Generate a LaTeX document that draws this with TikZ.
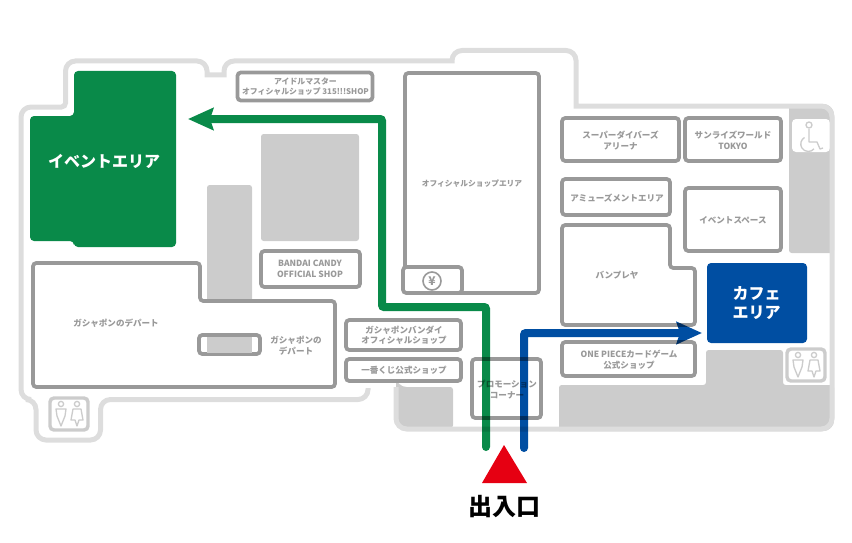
\documentclass[tikz,border=0pt]{standalone}
\usepackage{fontspec}
\setmainfont{Noto Sans CJK JP}
\usetikzlibrary{arrows.meta}

\definecolor{wallgray}{HTML}{DDDDDD}
\definecolor{blockgray}{HTML}{CCCCCC}
\definecolor{shopgray}{HTML}{999999}
\definecolor{eventgreen}{HTML}{098A49}
\definecolor{cafeblue}{HTML}{004EA2}
\definecolor{entryred}{HTML}{E60012}

\tikzset{
  wall/.style={draw=wallgray,line width=3.75pt},
  block/.style={fill=blockgray,rounded corners=2pt},
  shopbox/.style={draw=shopgray,line width=2.8pt,fill=white,rounded corners=2.5pt},
  shoplabel/.style={font=\bfseries\fontsize{6.4}{7.9}\selectfont,text=shopgray,align=center,inner sep=0pt},
  arealabel/.style={font=\bfseries\fontsize{12}{14.2}\selectfont,text=white,align=center,inner sep=0pt},
  route/.style={line width=6pt,line cap=round,rounded corners=1.5pt,
    -{Stealth[length=19pt,width=16.5pt,inset=2.5pt]}},
  iconline/.style={draw=blockgray,line width=1pt,fill=none},
  wcbox/.style={draw=blockgray,line width=2.6pt,fill=white,rounded corners=3pt}
}
\newcommand{\wcicons}[2]{
  \begin{scope}[shift={(#1,#2)}]
    \draw [wcbox] (0,0) rectangle (38,32);
    \draw [iconline] (11,6) circle (2.6);
    \draw [iconline,line join=round] (6,11) -- (16,11) -- (15,18) -- (11,28) -- (7,18) -- cycle;
    \draw [iconline] (27,6) circle (2.6);
    \draw [iconline,line join=round] (23,11) -- (31,11) -- (33,22) -- (29,22) -- (27,28) -- (25,22) -- (21,22) -- cycle;
  \end{scope}
}

\begin{document}
\begin{tikzpicture}[x=0.75pt,y=0.75pt,yscale=-1,xscale=1]
\useasboundingbox (0,0) rectangle (852,542);

% Grey blocks
\fill [block] (261,134) rectangle (359,241);
\fill [block] (207,185) rectangle (252,310);
\fill [block] (396,387) -- (453,387) -- (453,428) -- (404,428) [rounded corners=8pt] -- (396,428) -- (396,387) -- cycle;
\fill [block,sharp corners] (559,431) [rounded corners=2pt] -- (559,385) -- (706,385) -- (706,350) -- (783,350) -- (783,385) -- (834,385) [rounded corners=8pt] -- (834,431) [sharp corners] -- cycle;
\fill [block] (789,104) [rounded corners=8pt] -- (834,104) [rounded corners=2pt] -- (834,253) -- (789,253) -- cycle;
\fill [white,rounded corners=3pt] (792,119) rectangle (830,152);

% Outer walls
\draw [wall] (368,388) [rounded corners=7.5pt] -- (368,399.5) -- (100.5,399.5) -- (100.5,440) -- (36,440) -- (36,399.5)
  -- (21,399.5) -- (21,107) [rounded corners=3pt] -- (65.5,107) [rounded corners=7.5pt] -- (65.5,61) -- (207,61)
  [sharp corners] -- (207,75) -- (224,75) [rounded corners=7.5pt] -- (224,61) [sharp corners] -- (452,61)
  [rounded corners=7.5pt] -- (452,50.5) -- (576,50.5) [sharp corners] -- (576,106) [rounded corners=8pt] -- (832,106)
  -- (832,429) -- (396,429) -- (396,387);

% Event area
\fill [eventgreen,rounded corners=3pt] (74,71) -- (176,71) -- (176,247) -- (74,247) -- (74,241) -- (30,241) -- (30,116) -- (74,116) -- cycle;
% Cafe area
\fill [cafeblue,rounded corners=3pt] (707,263) rectangle (807,343);

% Shop boxes
\draw [shopbox] (237.5,72.5) rectangle (372.5,100.5);
\draw [shopbox] (405,73) rectangle (539,293);
\draw [shopbox] (403,267) rectangle (462,293);
\draw [shopbox] (562,118) rectangle (679,161);
\draw [shopbox] (685,118) rectangle (781,161);
\draw [shopbox] (562,179) rectangle (670,215);
\draw [shopbox] (685,188) rectangle (781,251);
\draw [shopbox] (562,225) -- (670,225) -- (670,268) -- (695,268) -- (695,325) -- (562,325) -- cycle;
\draw [shopbox] (562,342) rectangle (695,376);
\draw [shopbox] (261,251) rectangle (360,287);
\draw [shopbox] (33,263) -- (200,263) -- (200,301) -- (335,301) -- (335,387) -- (33,387) -- cycle;
\draw [shopbox] (199,335) rectangle (260,354);
\fill [blockgray] (207,336.5) rectangle (252,352.5);
\draw [shopbox] (346,320) rectangle (461,350);
\draw [shopbox] (346,359) rectangle (461,381);
\draw [shopbox] (472,359) rectangle (541,418);

% Toilets
\wcicons{50}{398}
\wcicons{787}{349}

% Wheelchair mark
\draw [iconline] (809,125) circle (3);
\draw [iconline,line join=round] (809,129) -- (809,142) -- (817,142) -- (820,149) -- (823,148);
\draw [iconline] (804.5,137.5) arc [start angle=240,end angle=40,radius=7.5];

% Yen mark
\draw [draw=shopgray,line width=1.2pt] (432,281) circle (9);
\node [shoplabel,font=\bfseries\fontsize{9}{9}\selectfont] (yen) at (432,281) {¥};

% Text Node
\node [arealabel] (eventarea) at (104,161) {イベントエリア};
\node [arealabel] (cafearea) at (756.5,303) {カフェ\\エリア};
\node [shoplabel,font=\bfseries\fontsize{5.9}{7.2}\selectfont] (idolshop) at (305.5,86.5) {アイドルマスター\\オフィシャルショップ 315!!!SHOP};
\node [shoplabel,font=\bfseries\fontsize{5.8}{7}\selectfont] (officialarea) at (472,183.5) {オフィシャルショップエリア};
\node [shoplabel] (superdivers) at (620.5,140.5) {スーパーダイバーズ\\アリーナ};
\node [shoplabel] (sunrise) at (733,140.5) {サンライズワールド\\TOKYO};
\node [shoplabel] (amusement) at (617,198) {アミューズメントエリア};
\node [shoplabel] (eventspace) at (733,220) {イベントスペース};
\node [shoplabel] (banpresto) at (617,275) {バンプレヤ};
\node [shoplabel] (onepiece) at (629,359.5) {ONE PIECEカードゲーム\\公式ショップ};
\node [shoplabel] (candy) at (310,269) {BANDAI CANDY\\OFFICIAL SHOP};
\node [shoplabel] (gashabig) at (116,323) {ガシャポンのデパート};
\node [shoplabel] (gashasmall) at (296,345.5) {ガシャポンの\\デパート};
\node [shoplabel] (gashabandai) at (404,335) {ガシャポンバンダイ\\オフィシャルショップ};
\node [shoplabel] (ichiban) at (404,370) {一番くじ公式ショップ};
\node [shoplabel] (promotion) at (507,389.5) {プロモーション\\コーナー};
\node [font=\bfseries\fontsize{18}{18}\selectfont,inner sep=0pt] (entrance) at (504,507) {出入口};

% Routes
\coordinate (greenstart) at (486,447);
\coordinate (greenturn) at (486,307);
\coordinate (greenmid) at (382,307);
\coordinate (greentop) at (382,119);
\coordinate (greenend) at (188,119);
\coordinate (bluestart) at (524,448);
\coordinate (blueturn) at (524,333);
\coordinate (blueend) at (702,333);
\begin{scope}[blend mode=multiply,transparency group]
\draw [route,draw=eventgreen] (greenstart) -- (greenturn) -- (greenmid) -- (greentop) -- (greenend);
\end{scope}
\begin{scope}[blend mode=multiply,transparency group]
\draw [route,draw=cafeblue] (bluestart) -- (blueturn) -- (blueend);
\end{scope}

% Entrance
\fill [entryred] (504,445) -- (527,483) -- (482,483) -- cycle;
\end{tikzpicture}
\end{document}
